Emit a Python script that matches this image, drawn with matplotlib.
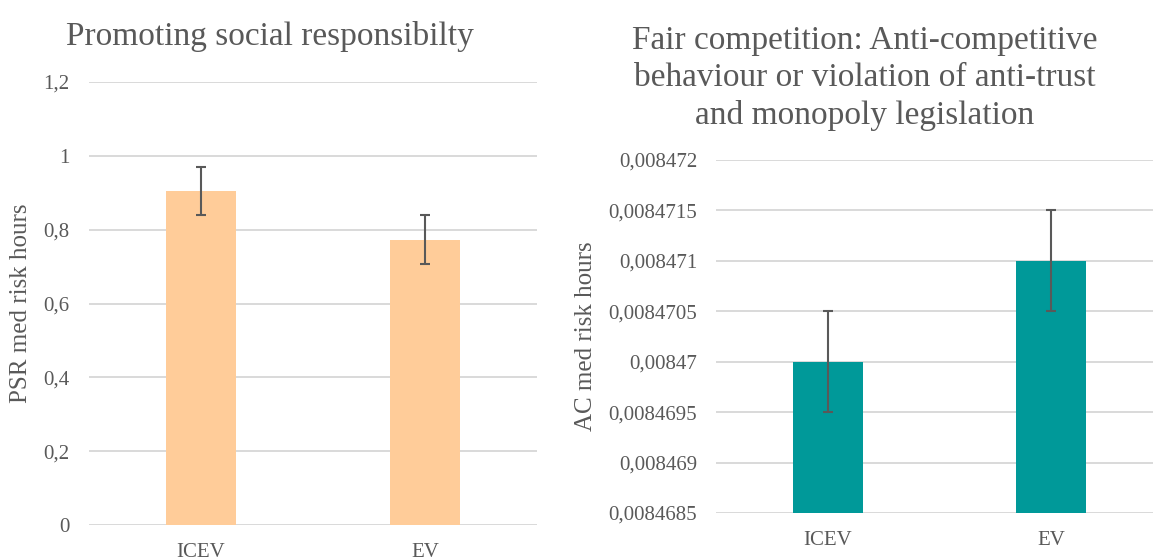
import matplotlib
matplotlib.use('Agg')
import matplotlib.pyplot as plt
from matplotlib.ticker import FuncFormatter

# data
categories = ['ICEV', 'EV']
psr_values = [0.905, 0.773]
psr_errors = [0.066, 0.066]
ac_values = [0.008470, 0.008471]
ac_errors = [0.0000005, 0.0000005]
psr_ticks = [0, 0.2, 0.4, 0.6, 0.8, 1.0, 1.2]
ac_ticks = [0.0084685, 0.008469, 0.0084695, 0.00847, 0.0084705, 0.008471, 0.0084715, 0.008472]

plt.rcParams['font.family'] = ['Liberation Serif', 'DejaVu Serif']
text_col = '#595959'
grid_col = '#D9D9D9'


def comma_fmt(v, pos):
    return ('%g' % v).replace('.', ',')


def style_axes(ax, ticks, label):
    for s in ax.spines.values():
        s.set_visible(False)
    ax.set_yticks(ticks)
    ax.set_ylim(ticks[0], ticks[-1])
    ax.yaxis.set_major_formatter(FuncFormatter(comma_fmt))
    ax.grid(axis='y', color=grid_col, linewidth=1.4)
    ax.set_axisbelow(True)
    ax.tick_params(axis='both', length=0, labelsize=15, colors=text_col)
    ax.tick_params(axis='y', pad=14)
    ax.tick_params(axis='x', pad=13)
    ax.set_ylabel(label, fontsize=18, color=text_col)
    ax.set_xlim(-0.5, 1.5)


def draw_bars(ax, values, errors, colour):
    ax.bar(range(len(categories)), values, width=0.31, color=colour,
           yerr=errors, error_kw=dict(ecolor='#595959', elinewidth=1.5,
                                      capsize=3.6, capthick=1.5))
    ax.set_xticks(range(len(categories)))
    ax.set_xticklabels(categories)


fig = plt.figure(figsize=(11.53, 5.58), dpi=100)

ax1 = fig.add_axes([0.0772, 0.0591, 0.3885, 0.7939])
draw_bars(ax1, psr_values, psr_errors, '#FFCC99')
style_axes(ax1, psr_ticks, 'PSR med risk hours')
ax1.yaxis.set_label_coords(-0.127, 0.5)

ax2 = fig.add_axes([0.6214, 0.0806, 0.3868, 0.6327])
draw_bars(ax2, ac_values, ac_errors, '#009999')
style_axes(ax2, ac_ticks, 'AC med risk hours')
ax2.yaxis.set_label_coords(-0.268, 0.5)

fig.text(270 / 1153, 1 - 37 / 558, 'Promoting social responsibilty',
         ha='center', va='center', fontsize=24, color=text_col)
fig.text(865 / 1153, 1 - 78 / 558,
         'Fair competition: Anti-competitive\n'
         'behaviour or violation of anti-trust\n'
         'and monopoly legislation',
         ha='center', va='center', fontsize=24, color=text_col,
         linespacing=1.28)

fig.savefig('out.png', dpi=100)
